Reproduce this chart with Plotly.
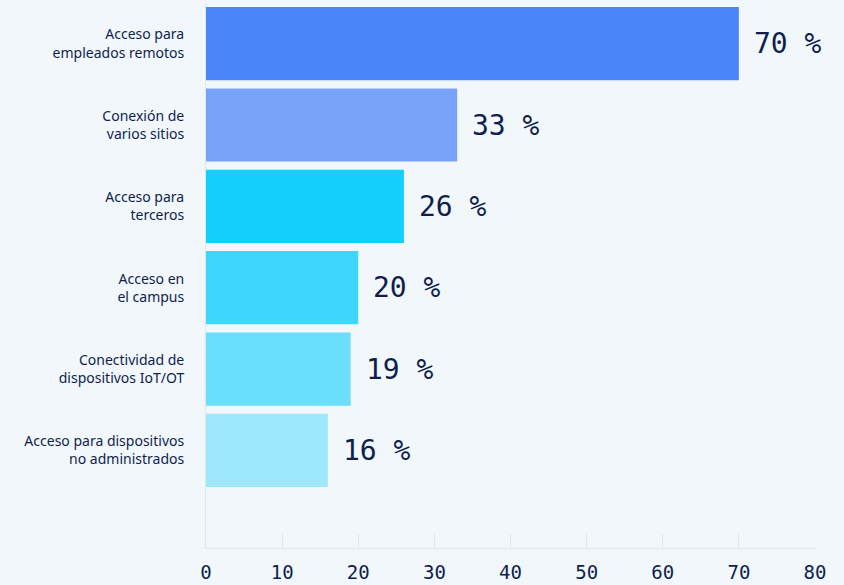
import plotly.graph_objects as go

categories = [
    "Acceso para<br>empleados remotos",
    "Conexión de<br>varios sitios",
    "Acceso para<br>terceros",
    "Acceso en<br>el campus",
    "Conectividad de<br>dispositivos IoT/OT",
    "Acceso para dispositivos<br>no administrados",
]
values = [70, 33, 26, 20, 19, 16]
bar_colors = ["#4a86f7", "#76a3f7", "#12cffc", "#3dd6fc", "#6adffb", "#9de8fb"]
x_ticks = [0, 10, 20, 30, 40, 50, 60, 70, 80]

navy = "#0f1f4d"
bg = "#f2f7fc"
grid = "#e1e6ec"

fig = go.Figure(
    go.Bar(
        x=values,
        y=categories,
        orientation="h",
        marker=dict(color=bar_colors, line=dict(width=0)),
        hoverinfo="skip",
    )
)

for v, c in zip(values, categories):
    fig.add_annotation(
        x=v, y=c, text=f"{v} %", showarrow=False,
        xanchor="left", yanchor="middle", xshift=13,
        font=dict(family="DejaVu Sans Mono", size=28, color=navy),
    )

fig.update_layout(
    width=844, height=585,
    margin=dict(l=206, r=29, t=3, b=37, autoexpand=False),
    paper_bgcolor=bg, plot_bgcolor=bg,
    bargap=0.1,
    showlegend=False,
    xaxis=dict(
        range=[0, 80], tickvals=x_ticks, showgrid=False, zeroline=False,
        showline=True, linecolor=grid, linewidth=1, automargin=False,
        ticks="inside", ticklen=14, tickcolor=grid, tickwidth=1,
        tickfont=dict(family="DejaVu Sans Mono", size=19, color=navy),
        ticklabelstandoff=7,
    ),
    yaxis=dict(
        type="category", range=[6.2, -0.5], showgrid=False, zeroline=False,
        showline=True, linecolor=grid, linewidth=1, ticks="", automargin=False,
        tickfont=dict(family="Noto Sans", size=14, color=navy),
        ticklabelstandoff=18,
    ),
)

fig.write_html("out.html")
